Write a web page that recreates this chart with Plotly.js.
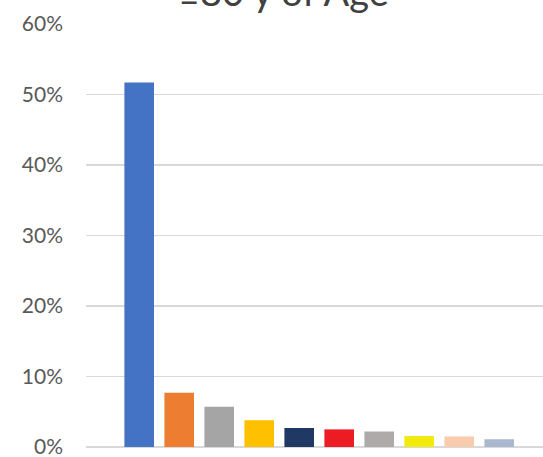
<!DOCTYPE html>
<html>
<head>
<meta charset="utf-8">
<script src="https://cdn.plot.ly/plotly-3.0.1.min.js"></script>
<style>html,body{margin:0;padding:0;background:#fff;}#chart{width:543px;height:457px;}</style>
</head>
<body>
<div id="chart"></div>
<script>
const categories = ["1", "2", "3", "4", "5", "6", "7", "8", "9", "10"];
const values = [51.7, 7.7, 5.7, 3.8, 2.7, 2.5, 2.2, 1.55, 1.5, 1.1];
const colors = ["#4472C4", "#ED7D31", "#A5A5A5", "#FFC000", "#203864", "#ED1C24", "#AEAAAA", "#F2EA0A", "#F8CBAD", "#A9B8CE"];
const tickVals = [0, 10, 20, 30, 40, 50, 60];
const tickText = ["0%", "10%", "20%", "30%", "40%", "50%", "60%"];
const titleText = "≥80 y of Age";

const trace = {
  type: "bar",
  x: categories.map((c, i) => i),
  y: values,
  marker: {color: colors, line: {width: 0}},
  hoverinfo: "skip"
};

const layout = {
  width: 543, height: 457,
  margin: {l: 86, r: 0, t: 24, b: 10, pad: 0},
  paper_bgcolor: "#fff", plot_bgcolor: "#fff",
  showlegend: false,
  bargap: 0.26,
  font: {family: "Lato, 'Open Sans', sans-serif", color: "#595959"},
  xaxis: {range: [-1.33, 10.095], showticklabels: false, showgrid: false, zeroline: false, showline: false, ticks: ""},
  yaxis: {range: [0, 60], tickvals: tickVals, ticktext: tickText, showgrid: true, gridcolor: "#D9D9D9", gridwidth: 1.5,
          zeroline: true, zerolinecolor: "#D9D9D9", zerolinewidth: 1.5, showline: false, ticks: "",
          ticklabelstandoff: 22, ticklabeloverflow: "allow", tickfont: {size: 21, color: "#595959"}},
  annotations: [{
    text: titleText, xref: "paper", yref: "paper", x: (283 - 86) / 457, y: 1 + 33 / 423,
    xanchor: "center", yanchor: "middle", showarrow: false,
    font: {size: 38, color: "#404040", family: "Lato, 'Open Sans', sans-serif"}
  }]
};

Plotly.newPlot("chart", [trace], layout, {staticPlot: true, displayModeBar: false});
</script>
</body>
</html>
